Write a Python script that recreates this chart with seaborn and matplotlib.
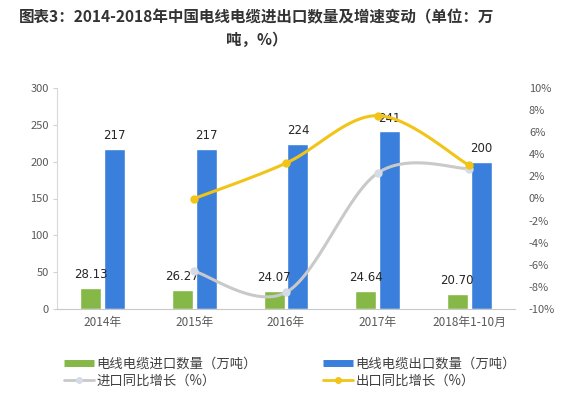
import numpy as np
import pandas as pd
import matplotlib as mpl
mpl.use('Agg')
import seaborn as sns
import matplotlib.pyplot as plt
from matplotlib.lines import Line2D

sns.set_style('white')
plt.rcParams['font.family'] = ['Noto Sans CJK SC', 'DejaVu Sans']

years = ['2014年', '2015年', '2016年', '2017年', '2018年1-10月']
import_qty = [28.13, 26.27, 24.07, 24.64, 20.70]
export_qty = [217, 217, 224, 241, 200]
import_growth = [np.nan, -6.6, -8.5, 2.3, 2.7]
export_growth = [np.nan, 0.0, 3.2, 7.5, 3.0]

green = '#86B848'
blue = '#3A7FDB'
yellow = '#F2C417'
grey = '#C9C9C9'


def smooth(xs, ys, n=30):
    # catmull-rom style smoothing, roughly like the spreadsheet "smoothed line"
    pts = np.column_stack([np.asarray(xs, float), np.asarray(ys, float)])
    out = []
    for i in range(len(pts) - 1):
        p0 = pts[max(i - 1, 0)]
        p1, p2 = pts[i], pts[i + 1]
        p3 = pts[min(i + 2, len(pts) - 1)]
        c1 = p1 + (p2 - p0) / 6.
        c2 = p2 - (p3 - p1) / 6.
        t = np.linspace(0, 1, n)[:, None]
        seg = ((1 - t) ** 3 * p1 + 3 * (1 - t) ** 2 * t * c1
               + 3 * (1 - t) * t ** 2 * c2 + t ** 3 * p2)
        out.append(seg if i == 0 else seg[1:])
    seg = np.vstack(out)
    return seg[:, 0], seg[:, 1]


bar_df = pd.DataFrame({
    'year': years * 2,
    'qty': import_qty + export_qty,
    'kind': ['电线电缆进口数量（万吨）'] * 5 + ['电线电缆出口数量（万吨）'] * 5,
})

fig = plt.figure(figsize=(5.8, 3.95), dpi=100)
ax = fig.add_axes([57 / 580, 1 - 309 / 395, 458 / 580, 221 / 395])

sns.barplot(data=bar_df, x='year', y='qty', hue='kind', ax=ax,
            palette=[green, blue], width=0.52, gap=0, saturation=1,
            legend=False)

# narrow each bar around its centre to leave a small gap within the pair
for patch in ax.patches:
    w = patch.get_width()
    patch.set_x(patch.get_x() + w * 0.06)
    patch.set_width(w * 0.88)

ax.set_ylim(0, 300)
ax.set_xlim(-0.5, 4.5)
ax.set_yticks(range(0, 301, 50))
ax.set_xlabel('')
ax.set_ylabel('')
ax.tick_params(axis='y', labelsize=8, colors='#595959', length=3,
               color='#D0D0D0', pad=3)
ax.tick_params(axis='x', labelsize=8.5, colors='#595959', length=0, pad=5)
for side in ['top', 'right']:
    ax.spines[side].set_visible(False)
ax.spines['left'].set_color('#D9D9D9')
ax.spines['bottom'].set_color('#C8C8C8')

for cont, fmt in zip(ax.containers, ['{:.2f}', '{:.0f}']):
    ax.bar_label(cont, labels=[fmt.format(v) for v in cont.datavalues],
                 padding=5, fontsize=8.5, color='#262626',
                 family=['DejaVu Sans'])

ax2 = ax.twinx()
xs = np.arange(1, 5)
gx, gy = smooth(xs, import_growth[1:])
ax2.plot(gx, gy, color=grey, lw=2.2, zorder=3)
ax2.plot(xs, import_growth[1:], 'o', color='#D5DCE6', ms=5, zorder=4)
ex, ey = smooth(xs, export_growth[1:])
ax2.plot(ex, ey, color=yellow, lw=2.2, zorder=3)
ax2.plot(xs, export_growth[1:], 'o', color=yellow, ms=5, zorder=4)
ax2.set_ylim(-10, 10)
ax2.set_yticks(range(-10, 11, 2))
ax2.set_yticklabels(['{}%'.format(v) for v in range(-10, 11, 2)])
ax2.tick_params(axis='y', labelsize=8, colors='#595959', length=0, pad=10)
for side in ax2.spines:
    ax2.spines[side].set_visible(False)

fig.text(257 / 580, 1 - 17 / 395,
         '图表3：2014-2018年中国电线电缆进出口数量及增速变动（单位：万',
         ha='center', va='center', fontsize=11.2, weight='bold',
         color='#333333')
fig.text(257 / 580, 1 - 40 / 395, '吨，%）', ha='center', va='center',
         fontsize=11.2, weight='bold', color='#333333')

handles = [
    Line2D([], [], color=green, lw=5, solid_capstyle='butt'),
    Line2D([], [], color=grey, lw=2, marker='o', ms=4,
           markerfacecolor='#D5DCE6', markeredgecolor='#D5DCE6'),
    Line2D([], [], color=blue, lw=5, solid_capstyle='butt'),
    Line2D([], [], color=yellow, lw=2, marker='o', ms=4),
]
labels = ['电线电缆进口数量（万吨）', '进口同比增长（%）',
          '电线电缆出口数量（万吨）', '出口同比增长（%）']
fig.legend(handles, labels, loc='center', ncol=2,
           bbox_to_anchor=(0.5, 1 - 372 / 395), frameon=False,
           fontsize=9.6, handlelength=2.2, handletextpad=0.2,
           columnspacing=5.0, labelspacing=0.2, labelcolor='#404040')

fig.savefig('out.png', dpi=100)
